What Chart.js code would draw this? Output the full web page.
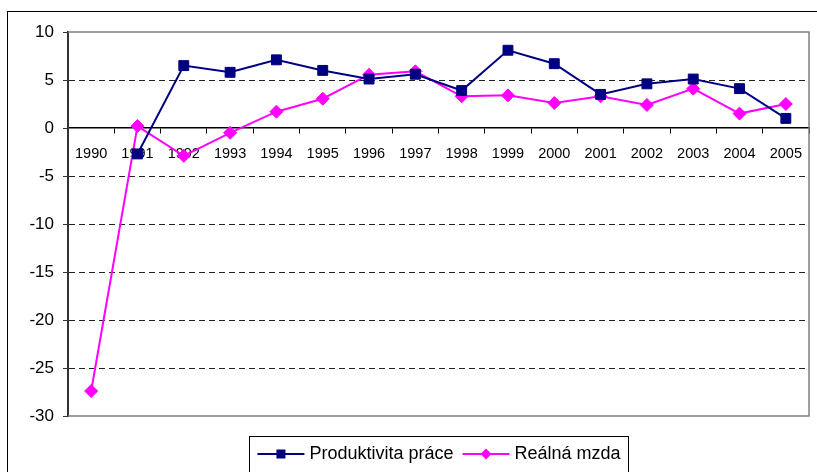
<!DOCTYPE html>
<html><head><meta charset="utf-8">
<script src="https://cdn.jsdelivr.net/npm/chart.js@4.4.0/dist/chart.umd.min.js"></script>
<style>html,body{margin:0;padding:0;background:#fff}#wrap{width:817px;height:472px;position:relative}</style>
</head><body><div id="wrap"><canvas id="c"></canvas></div>
<script>
const years = ['1990','1991','1992','1993','1994','1995','1996','1997','1998','1999','2000','2001','2002','2003','2004','2005'];
const productivity = [null,-2.7,6.5,5.8,7.1,6.0,5.1,5.6,3.9,8.1,6.7,3.5,4.6,5.1,4.1,1.0];
const realWage = [-27.4,0.2,-2.9,-0.5,1.7,3.05,5.55,5.9,3.3,3.4,2.6,3.3,2.4,4.1,1.5,2.5];
const yTicks = [10,5,0,-5,-10,-15,-20,-25,-30];
const seriesNames = ['Produktivita práce','Reálná mzda'];

const FONT = '"Liberation Sans", Arial, sans-serif';
const NAVY = '#000080', MAG = '#FF00FF';

const framePlugin = {
  id:'frame',
  beforeDatasetsDraw(chart){
    const {ctx, chartArea:a} = chart;
    ctx.save();
    ctx.strokeStyle = '#808080'; ctx.lineWidth = 1.5;
    ctx.beginPath();
    ctx.moveTo(a.left, a.top); ctx.lineTo(a.right, a.top); ctx.lineTo(a.right, a.bottom); ctx.lineTo(a.left, a.bottom);
    ctx.stroke();
    ctx.restore();
  },
  afterDraw(chart){
    const {ctx} = chart;
    ctx.save();
    ctx.strokeStyle = '#000'; ctx.lineWidth = 1;
    ctx.strokeRect(7.5, 11.5, 840, 500);
    const bx = 249.5, by = 436.5, bw = 379, bh = 60;
    ctx.strokeRect(bx, by, bw, bh);
    ctx.font = '18px ' + FONT;
    ctx.textBaseline = 'middle';
    ctx.fillStyle = '#000';
    const cy = 454;
    const items = chart.data.datasets.map(d => ({label:d.label, color:d.borderColor, style:d.pointStyle}));
    const lineW = 47, gap1 = 5, gap2 = 9;
    let total = 0;
    items.forEach((it,i)=>{ total += lineW + gap1 + ctx.measureText(it.label).width + (i<items.length-1?gap2:0); });
    let x = bx + (bw - total)/2;
    items.forEach((it,i)=>{
      ctx.strokeStyle = it.color; ctx.lineWidth = 2;
      ctx.beginPath(); ctx.moveTo(x, cy); ctx.lineTo(x+lineW, cy); ctx.stroke();
      ctx.fillStyle = it.color;
      const mx = x + lineW/2;
      if (it.style === 'rect') { ctx.fillRect(mx-4.5, cy-4.5, 9, 9); }
      else { ctx.beginPath(); ctx.moveTo(mx, cy-5.5); ctx.lineTo(mx+5.5, cy); ctx.lineTo(mx, cy+5.5); ctx.lineTo(mx-5.5, cy); ctx.closePath(); ctx.fill(); }
      x += lineW + gap1;
      ctx.fillStyle = '#000';
      ctx.fillText(it.label, x, cy);
      x += ctx.measureText(it.label).width + gap2;
    });
    ctx.restore();
  }
};

new Chart(document.getElementById('c'), {
  type:'line',
  data:{
    labels: years,
    datasets:[
      {label:seriesNames[0], data:productivity, borderColor:NAVY, backgroundColor:NAVY, borderWidth:2, pointStyle:'rect', pointRadius:7, pointBorderWidth:1, tension:0, spanGaps:false},
      {label:seriesNames[1], data:realWage, borderColor:MAG, backgroundColor:MAG, borderWidth:2, pointStyle:'rectRot', pointRadius:6.5, pointBorderWidth:1, tension:0}
    ]
  },
  options:{
    responsive:true, maintainAspectRatio:false, animation:false,
    layout:{padding:{left:0, top:32, right:7, bottom:56}},
    plugins:{legend:{display:false}, tooltip:{enabled:false}},
    scales:{
      x:{
        type:'category', offset:true, position:{y:0},
        grid:{offset:true, drawOnChartArea:false, drawTicks:true, tickLength:5, color:'#000', lineWidth:1},
        border:{display:true, color:'#000', width:1.5},
        ticks:{font:{family:FONT, size:14.5}, color:'#000', padding:12, maxRotation:0, autoSkip:false}
      },
      y:{
        min:-30, max:10,
        afterBuildTicks:(s)=>{ s.ticks = yTicks.map(v=>({value:v})); },
        afterFit:(s)=>{ s.width = 68; },
        grid:{
          color:(c)=>{ const v = c.tick && c.tick.value; return (v===10||v===0||v===-30) ? 'rgba(0,0,0,0)' : '#222'; },
          tickColor:'#333', tickLength:5, lineWidth:1
        },
        border:{display:true, color:'#333', width:2, dash:[6,4]},
        ticks:{font:{family:FONT, size:17}, color:'#000', padding:9}
      }
    }
  },
  plugins:[framePlugin]
});
</script>
</body></html>
